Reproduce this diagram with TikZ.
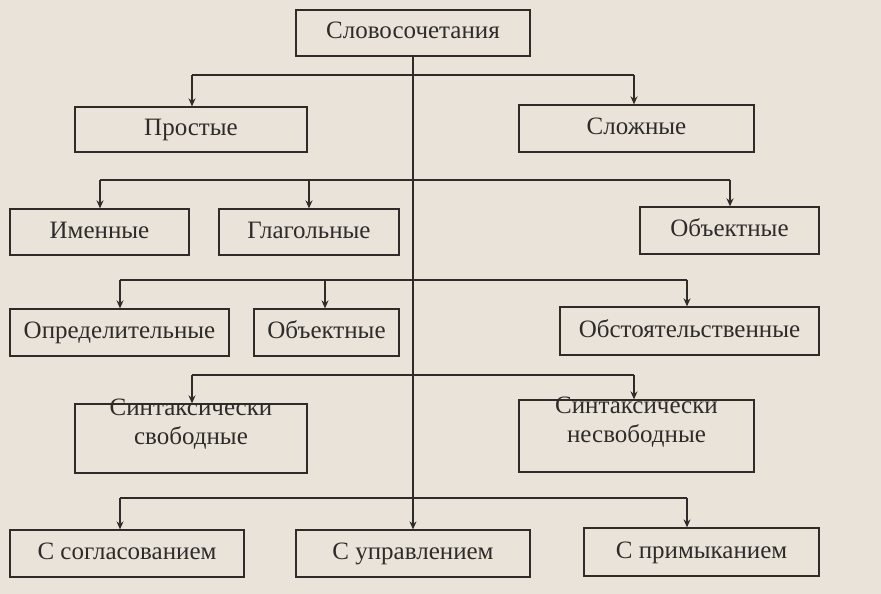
\documentclass[tikz,border=0pt]{standalone}
\usepackage{fontspec}
\setmainfont{Liberation Serif}
\usetikzlibrary{arrows.meta}
\definecolor{paper}{HTML}{E9E3DA}
\definecolor{ink}{HTML}{2E2B28}
\begin{document}
\begin{tikzpicture}[x=1pt,y=-1pt,
  bx/.style={draw=ink,line width=1.3pt,fill=paper,text=ink,font=\fontsize{25}{29}\selectfont,align=center,inner sep=0pt,text height=17pt,text depth=5pt},
  ln/.style={draw=ink,line width=1.2pt},
  ar/.style={ln,-{Stealth[length=8pt,width=7pt]}}]
\fill[paper] (0,0) rectangle (881,594);
\useasboundingbox (0,0) rectangle (881,594);
\newcommand{\bbox}[6]{\node[bx,minimum width=#4-#2,minimum height=#5-#3] (#1) at ({(#2+#4)/2},{(#3+#5)/2}) {#6};}
\bbox{top}{296}{10}{530}{56}{Словосочетания}
\bbox{pr}{75}{107}{307}{152}{Простые}
\bbox{sl}{519}{105}{754}{152}{Сложные}
\bbox{im}{10}{209}{189}{255}{Именные}
\bbox{gl}{219}{209}{399}{255}{Глагольные}
\bbox{ob1}{640}{207}{819}{254}{Объектные}
\bbox{op}{10}{309}{229}{356}{Определительные}
\bbox{ob2}{254}{309}{399}{356}{Объектные}
\bbox{obs}{560}{307}{819}{355}{Обстоятельственные}
\bbox{sv}{75}{404}{307}{473}{Синтаксически\\свободные}
\bbox{nsv}{519}{400}{754}{472}{Синтаксически\\несвободные}
\bbox{sog}{10}{530}{244}{577}{С согласованием}
\bbox{upr}{296}{530}{530}{577}{С управлением}
\bbox{pri}{584}{528}{819}{576}{С примыканием}
\draw[ar] (top.south -| 413,0) -- (upr.north -| 413,0);
% level 1
\draw[ln] (192,75) -- (634,75);
\draw[ar] (192,75) -- (pr.north -| 192,0);
\draw[ar] (634,75) -- (sl.north -| 634,0);
% level 2
\draw[ln] (100,180) -- (730,180);
\draw[ar] (100,180) -- (im.north -| 100,0);
\draw[ar] (309,180) -- (gl.north -| 309,0);
\draw[ar] (730,180) -- (ob1.north -| 730,0);
% level 3
\draw[ln] (120,280) -- (687,280);
\draw[ar] (120,280) -- (op.north -| 120,0);
\draw[ar] (325,280) -- (ob2.north -| 325,0);
\draw[ar] (687,280) -- (obs.north -| 687,0);
% level 4
\draw[ln] (192,375) -- (634,375);
\draw[ar] (192,375) -- (sv.north -| 192,0);
\draw[ar] (634,375) -- (nsv.north -| 634,0);
% level 5
\draw[ln] (120,498) -- (687,498);
\draw[ar] (120,498) -- (sog.north -| 120,0);
\draw[ar] (687,498) -- (pri.north -| 687,0);
\end{tikzpicture}
\end{document}
